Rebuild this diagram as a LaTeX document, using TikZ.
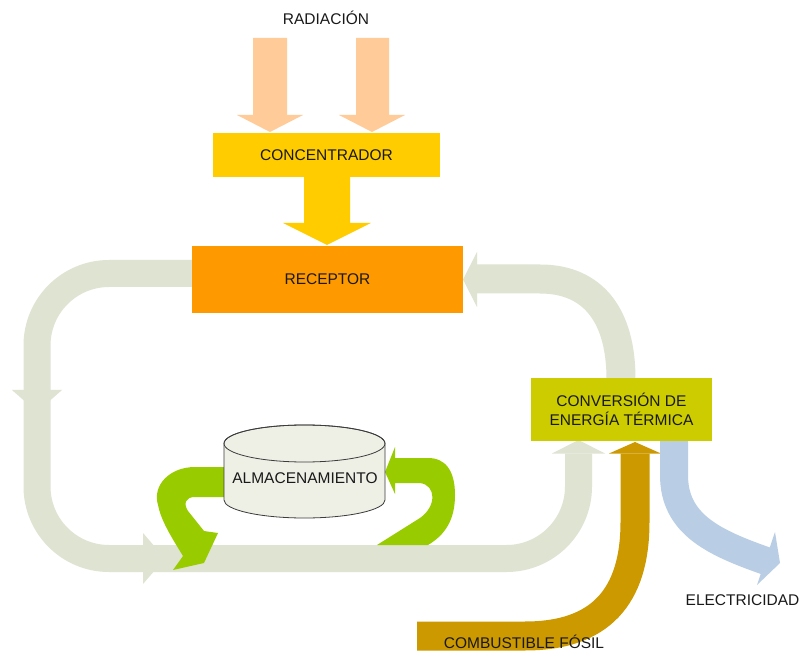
\documentclass[tikz,border=0pt]{standalone}
\usepackage{fontspec}
\setmainfont{Liberation Sans}
\definecolor{txt}{RGB}{25,25,25}
\definecolor{radc}{RGB}{255,204,153}
\definecolor{concc}{RGB}{255,204,0}
\definecolor{recc}{RGB}{255,153,0}
\definecolor{convc}{RGB}{204,204,0}
\definecolor{loopc}{RGB}{223,227,210}
\definecolor{greenc}{RGB}{153,204,0}
\definecolor{elecc}{RGB}{185,205,229}
\definecolor{fuelc}{RGB}{204,153,0}
\definecolor{cylf}{RGB}{238,240,230}
\definecolor{cyld}{RGB}{60,60,60}
\begin{document}
\begin{tikzpicture}[x=1pt,y=-1pt,
  lbl/.style={font=\fontsize{15.5}{18.5}\selectfont, text=txt, inner sep=0pt, align=center},
  box/.style={lbl, rectangle, draw=none},
  band/.style={line width=#1, line cap=butt}]
\useasboundingbox[fill=white] (0,0) rectangle (801,652);

% ---- main left loop (receptor -> storage line -> conversion)
\draw[band=27pt, draw=loopc, rounded corners=72pt]
  (200,273.5) -- (37,273.5) -- (37,558.5) -- (578.5,558.5) -- (578.5,453.5);
\fill[loopc] (12,390) -- (62,390) -- (37,412) -- cycle;
\fill[loopc] (143,533) -- (143,584) -- (165,558.5) -- cycle;
\fill[loopc] (552,453.5) -- (605,453.5) -- (578.5,440) -- cycle;

% ---- return loop (conversion -> receptor)
\draw[band=29pt, draw=loopc]
  (621,379) .. controls (621,318) and (595,279) .. (540,279) -- (476,279);
\fill[loopc] (477,252) -- (477,307) -- (463,279.5) -- cycle;

% ---- fossil fuel
\begin{scope}
\clip (0,0) rectangle (801,652);
\draw[band=29pt, draw=fuelc]
  (417,636) -- (525,636) .. controls (600,636) and (635,597) .. (635,522) -- (635,453.5);
\end{scope}
\fill[fuelc] (609,453.5) -- (661,453.5) -- (635,442) -- cycle;

% ---- electricity
\draw[band=28pt, draw=elecc]
  (674,441) -- (674,475) .. controls (674,525) and (715,543) .. (767.5,561.5);
\fill[elecc] (775,532) -- (780,563) -- (757,585) -- cycle;

% ---- radiation arrows
\fill[radc] (253,38) -- (287,38) -- (287,115) -- (303,115) -- (270,132) -- (237,115) -- (253,115) -- cycle;
\fill[radc] (356,38) -- (389,38) -- (389,115) -- (405,115) -- (372,132) -- (339,115) -- (356,115) -- cycle;

% ---- concentrator arrow
\fill[concc] (304,176) -- (350,176) -- (350,223) -- (371,223) -- (327,245) -- (283,223) -- (304,223) -- cycle;

% ---- green storage arrows
\fill[greenc] (226,467) -- (195,467) .. controls (170,467) and (152,485) .. (158,505)
  .. controls (161,520) and (170,535) .. (183,556) -- (173,570) -- (204,563) -- (218,533)
  -- (204,531) -- (188,511) .. controls (183,503) and (186,497) .. (195,497) -- (226,497) -- cycle;
\fill[greenc] (395,447) -- (385,472) -- (395,494) -- (395,483) -- (420,483)
  .. controls (436,485) and (437,506) .. (420,518) -- (377,545) -- (428,545)
  .. controls (445,535) and (455,520) .. (455,495) .. controls (455,470) and (445,458) .. (428,458)
  -- (395,458) -- cycle;

% ---- storage cylinder
\path[fill=cylf, draw=cyld, line width=0.8pt]
  (224,443.5) -- (224,500) arc[start angle=180, end angle=0, x radius=80.5, y radius=18]
  -- (385,443.5) arc[start angle=0, end angle=-180, x radius=80.5, y radius=18.5] -- cycle;
\draw[cyld, line width=0.8pt] (304.5,443.5) ellipse[x radius=80.5, y radius=18.5];
\node[lbl] (alm) at (305,478) {ALMACENAMIENTO};

% ---- boxes
\node[box, fill=concc, minimum width=227pt, minimum height=44pt] (conc) at (326.5,155) {CONCENTRADOR};
\node[box, fill=recc, minimum width=271pt, minimum height=67pt] (rec) at (327.5,279.5) {RECEPTOR};
\node[box, fill=convc, minimum width=181pt, minimum height=63pt] (conv) at (621.5,409.5) {CONVERSIÓN DE\\ENERGÍA TÉRMICA};

% ---- labels
\node[lbl] (rad) at (326,18) {RADIACIÓN};
\node[lbl] (elec) at (742.5,600) {ELECTRICIDAD};
\node[lbl] (fuel) at (524,642) {COMBUSTIBLE FÓSIL};
\end{tikzpicture}
\end{document}
